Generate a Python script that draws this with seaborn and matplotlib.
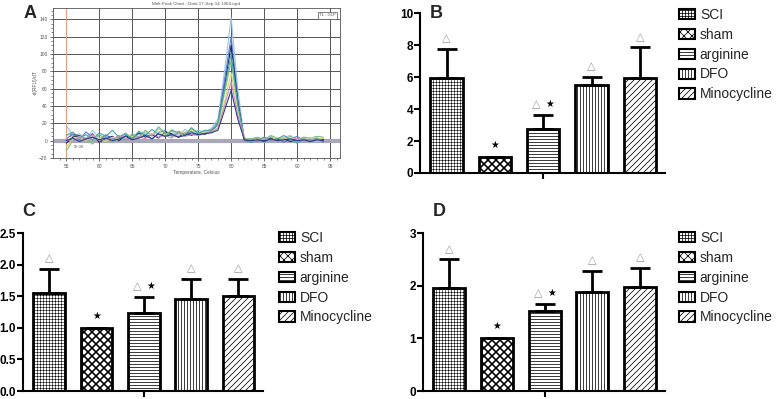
import matplotlib
matplotlib.use("Agg")
import matplotlib.pyplot as plt
import matplotlib.patches as mpatches
import seaborn as sns
import numpy as np
import pandas as pd

sns.set_theme(style="white")
plt.rcParams['font.family'] = ['Liberation Sans', 'DejaVu Sans']
plt.rcParams['hatch.linewidth'] = 0.75

DPI = 72
S = 100 / 72  # size scale so layout matches a 100-dpi design


def P(x):
    return x * S

# ---------------- Data ----------------
groups = ["SCI", "sham", "arginine", "DFO", "Minocycline"]
hatches = ["++++", "xxx", "----", "||||", "////"]
hatch_lw = [0.55, 1.6, 0.75, 0.75, 0.75]

B_mean = [5.92, 1.0, 2.75, 5.5, 5.92]
B_err = [1.81, 0.0, 0.88, 0.52, 1.93]
C_mean = [1.545, 1.0, 1.23, 1.455, 1.50]
C_err = [0.385, 0.0, 0.26, 0.325, 0.27]
D_mean = [1.95, 1.0, 1.52, 1.88, 1.97]
D_err = [0.55, 0.0, 0.13, 0.40, 0.36]
marks = ["\u25b3", "\u2605", "\u25b3\u2605", "\u25b3", "\u25b3"]

temps = list(range(55, 95))
curve_vals = [
    [18, 5, 8, 2, 12, 3, 6, 0, 4, 9, 3, 7, 10, 5, 14, 8, 11, 6, 13, 9, 12, 10, 14,
     25, 80, 142, 60, 2, 0, 3, -2, 5, 1, 4, 6, 0, 3, 2, -1, 3],
    [2, 8, 1, 10, 4, 0, 7, 2, 5, 1, 6, 3, 8, 2, 9, 12, 5, 10, 7, 11, 6, 9, 10,
     20, 70, 120, 50, 0, 2, -1, 4, 1, 3, -2, 2, 5, 0, 1, 3, -1],
    [-3, 4, 6, 1, 8, -2, 3, 5, 0, 6, 2, 9, 4, 7, 3, 10, 8, 4, 9, 6, 10, 7, 12,
     18, 62, 110, 45, 1, 1, 2, 0, 3, 1, 2, -1, 2, 1, 0, 2, 1],
    [-12, 0, 5, 3, -4, 7, 2, -2, 6, 1, 8, 4, 12, 6, 16, 9, 5, 11, 8, 14, 9, 11, 13,
     18, 55, 92, 40, 3, 2, 4, 1, 6, 3, 2, 5, 1, 4, 3, 5, 4],
    [-8, 2, 4, 0, 6, 3, -1, 4, 2, 7, 5, 3, 9, 7, 11, 6, 13, 8, 10, 12, 8, 10, 11,
     15, 45, 78, 36, 4, 0, 2, 3, 1, 4, 2, 3, 2, 1, 4, 2, 3],
    [6, 10, 3, 7, 1, 9, 5, 12, 4, 8, 2, 11, 6, 13, 7, 5, 12, 9, 6, 15, 8, 12, 11,
     22, 60, 100, 42, 0, -2, 1, 4, 0, 2, 6, 1, -3, 2, 0, 3, -2],
    [3, -2, 5, 2, 7, 0, 4, 1, 6, 3, 0, 5, 2, 8, 4, 6, 3, 9, 5, 7, 6, 8, 10,
     14, 40, 68, 30, 2, 1, 0, 2, 1, 0, 2, 1, 3, 0, 1, 2, 0],
    [0, 3, -1, 2, 4, 1, 3, 0, 2, 5, 1, 3, 6, 2, 8, 5, 7, 4, 6, 9, 7, 8, 9,
     12, 35, 58, 25, 1, 0, 1, -1, 2, 0, 1, 2, 0, 1, -1, 1, 0],
]
curve_colors = ['#9cc3e6', '#5b7fd6', '#1c2b6b', '#7cbf7c', '#d2dc6e',
                '#4aa3a3', '#d08cc0', '#2a3f8f']

fig = plt.figure(figsize=(778 / DPI, 399 / DPI), dpi=DPI)

# ---------------- Panel A ----------------
axA = fig.add_axes([53/778, 1-158/399, 287/778, 150/399])
rows = []
for i, vals in enumerate(curve_vals):
    for t, v in zip(temps, vals):
        rows.append({"T": t, "v": v, "c": f"c{i}"})
dfA = pd.DataFrame(rows)
axA.axhline(0, color='#a8a8b8', lw=P(3), zorder=1)
sns.lineplot(data=dfA, x="T", y="v", hue="c", palette=curve_colors,
             lw=P(0.8), legend=False, ax=axA, zorder=3)
axA.axvline(55, color='#e0a080', lw=P(0.8), zorder=2)
axA.set_xlim(53, 96.5)
axA.set_ylim(-20, 153)
axA.set_xticks(range(55, 100, 5))
axA.set_yticks(range(-20, 150, 20))
axA.set_xticks(range(54, 97), minor=True)
axA.set_yticks(range(-20, 153, 5), minor=True)
axA.grid(True, which='major', color='#555555', lw=P(0.7))
axA.tick_params(axis='both', which='major', labelsize=P(3.5), length=P(2.5),
                width=P(0.6), direction='out', colors='#555555', pad=P(1.5),
                bottom=True, left=True)
axA.tick_params(axis='both', which='minor', length=P(1.2), width=P(0.5),
                colors='#555555', bottom=True, left=True)
for s in axA.spines.values():
    s.set_color('#555555'); s.set_linewidth(P(0.6))
axA.set_xlabel("Temperature, Celsius", fontsize=P(3.5), color='#555555', labelpad=P(1))
axA.set_ylabel("-d(RFU)/dT", fontsize=P(3.5), color='#555555', labelpad=P(1))
axA.set_title("Melt Peak Chart : Data 17-Sep-14 1904.opd", fontsize=P(3.2),
              color='#555555', pad=P(2))
axA.text(0.985, 0.965, "T1 - G1P", transform=axA.transAxes, fontsize=P(3),
         ha='right', va='top', color='#555555',
         bbox=dict(boxstyle='square,pad=0.3', fc='white', ec='#555555', lw=P(0.5)))
axA.text(55.4, 2.5, "1.000", fontsize=P(3), color='#555555', ha='left', va='bottom')
axA.text(56.2, -5, "55.00", fontsize=P(3), color='#555555', ha='left', va='top')
fig.text(30/778, 1-13/399, "A", fontsize=P(13), fontweight='bold', ha='center', va='center')


def style_hatch(p, h, lw):
    p.set_hatch(h)
    try:
        p.set_hatch_linewidth(lw)
    except Exception:
        pass


def bar_panel(rect, means, errs, ymax, yticks, ytlabels, letter, letter_xy, legend_x, legend_y):
    ax = fig.add_axes(rect)
    df = pd.DataFrame({"g": groups, "m": means})
    sns.barplot(data=df, x="g", y="m", order=groups, color='white',
                edgecolor='black', linewidth=P(2), width=0.67, ax=ax,
                errorbar=None, saturation=1)
    for p, h, hl in zip(ax.patches, hatches, hatch_lw):
        p.set_facecolor('white')
        p.set_edgecolor('black')
        style_hatch(p, h, hl)
    xs = np.arange(len(groups))
    ax.errorbar(xs, means, yerr=[np.zeros(len(errs)), errs], fmt='none',
                ecolor='black', elinewidth=P(2), capsize=P(7), capthick=P(2), zorder=5)
    for x, m, e, mk in zip(xs, means, errs, marks):
        top = m + e
        if mk == "\u2605":
            ax.annotate(mk, (x, top), xytext=(0, P(5)), textcoords='offset points',
                        ha='center', va='bottom', fontsize=P(7), color='black',
                        family=['DejaVu Sans'])
        elif mk == "\u25b3":
            ax.annotate(mk, (x, top), xytext=(0, P(4)), textcoords='offset points',
                        ha='center', va='bottom', fontsize=P(8), color='#999999',
                        family=['DejaVu Sans'])
        else:
            ax.annotate("\u25b3", (x, top), xytext=(P(-5), P(4)), textcoords='offset points',
                        ha='center', va='bottom', fontsize=P(8), color='#999999',
                        family=['DejaVu Sans'])
            ax.annotate("\u2605", (x, top), xytext=(P(5), P(4.5)), textcoords='offset points',
                        ha='center', va='bottom', fontsize=P(7), color='black',
                        family=['DejaVu Sans'])
    ax.set_xlim(-0.55, 4.52)
    ax.set_ylim(0, ymax)
    ax.set_yticks(yticks)
    ax.set_yticklabels(ytlabels, fontweight='bold', fontsize=P(8.5))
    ax.set_xticks([2])
    ax.set_xticklabels([""])
    ax.set_xlabel("")
    ax.set_ylabel("")
    sns.despine(ax=ax)
    for s in ['left', 'bottom']:
        ax.spines[s].set_linewidth(P(1.5))
        ax.spines[s].set_color('black')
    ax.tick_params(axis='both', length=P(4), width=P(1.5), direction='out', pad=P(1),
                   left=True, bottom=True, colors='black')
    fig.text(letter_xy[0]/778, 1-letter_xy[1]/399, letter, fontsize=P(13),
             fontweight='bold', ha='center', va='center')
    handles = []
    for h, hl in zip(hatches, hatch_lw):
        hp = mpatches.Patch(facecolor='white', edgecolor='black', lw=P(1.5))
        style_hatch(hp, h, hl)
        handles.append(hp)
    fig.legend(handles, groups, loc='upper left',
               bbox_to_anchor=(legend_x/778, 1-legend_y/399), frameon=False,
               fontsize=P(10), handlelength=1.15, handleheight=0.75, handletextpad=0.35,
               labelspacing=0.42, borderaxespad=0, borderpad=0)
    return ax


bar_panel([420/778, 1-173/399, 245/778, 160/399], B_mean, B_err, 10,
          [0, 2, 4, 6, 8, 10], ["0", "2", "4", "6", "8", "10"],
          "B", (436, 13), 679, 8)
bar_panel([23/778, 1-391/399, 240/778, 158/399], C_mean, C_err, 2.5,
          [0, 0.5, 1.0, 1.5, 2.0, 2.5], ["0.0", "0.5", "1.0", "1.5", "2.0", "2.5"],
          "C", (29, 211), 279, 231)
bar_panel([423/778, 1-391/399, 242/778, 158/399], D_mean, D_err, 3,
          [0, 1, 2, 3], ["0", "1", "2", "3"],
          "D", (439, 211), 679, 231)

fig.savefig("out.png", dpi=DPI, facecolor='white')
